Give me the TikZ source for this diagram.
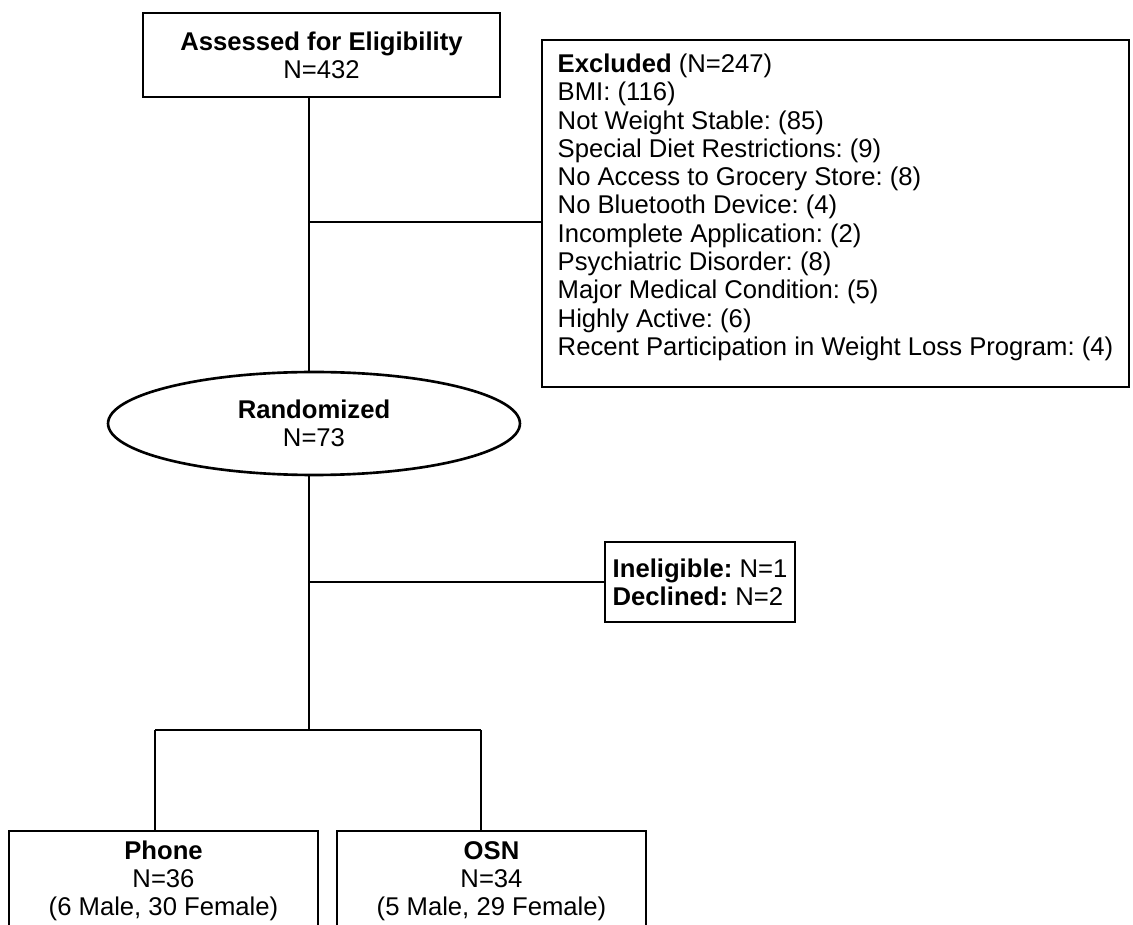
\documentclass[tikz,border=0pt]{standalone}
\usepackage{fontspec}
\setmainfont{Liberation Sans}
\usepackage{tikz}
\usetikzlibrary{positioning,shapes.geometric}
\definecolor{colorline}{RGB}{0,0,0}
\definecolor{colortext}{RGB}{0,0,0}
\frenchspacing

\begin{document}
\begin{tikzpicture}[
    x=0.02cm, y=-0.02cm,
    font={\fontsize{14.6pt}{16.1pt}\selectfont},
    base/.style={draw=colorline,text=colortext,line width=1.5pt,rectangle,inner sep=0pt,align=center},
    oval/.style={draw=colorline,text=colortext,line width=1.5pt,ellipse,inner sep=0pt,align=center},
    line/.style={draw=colorline,line width=1.3pt},
]
    \clip (0,0) rectangle (1133,925);

    \node[base,minimum width=7.14cm,minimum height=1.68cm] at (321.5,55) (assessed)
        {\textbf{Assessed for Eligibility}\\N=432};

    \node[base,minimum width=11.74cm,minimum height=6.94cm,align=left] at (835.5,213.5) (excluded)
        {\textbf{Excluded} (N=247)\\BMI: (116)\\Not Weight Stable: (85)\\Special Diet Restrictions: (9)\\
         No Access to Grocery Store: (8)\\No Bluetooth Device: (4)\\Incomplete Application: (2)\\
         Psychiatric Disorder: (8)\\Major Medical Condition: (5)\\Highly Active: (6)\\
         Recent Participation in Weight Loss Program: (4)\\[-6pt]};

    \node[oval,minimum width=8.24cm,minimum height=2.06cm] at (314,423.5) (random)
        {\textbf{Randomized}\\N=73};

    \node[base,minimum width=3.8cm,minimum height=1.6cm,align=left] at (700,582) (inelig)
        {\textbf{Ineligible:} N=1\\\textbf{Declined:} N=2};

    \node[base,minimum width=6.18cm,minimum height=2cm] at (163.5,881) (phone)
        {\textbf{Phone}\\N=36\\(6 Male, 30 Female)};
    \node[base,minimum width=6.18cm,minimum height=2cm] at (491.5,881) (osn)
        {\textbf{OSN}\\N=34\\(5 Male, 29 Female)};

    \coordinate (trunk) at (309,0);
    \coordinate (exclBranch) at (309,222);
    \coordinate (ineligBranch) at (309,582);
    \coordinate (splitL) at (155,730);
    \coordinate (splitR) at (481,730);

    \draw[line] (assessed.south -| trunk) -- (random.north -| trunk);
    \draw[line] (exclBranch) -- (exclBranch -| excluded.west);
    \draw[line] (random.south -| trunk) -- (trunk |- splitL);
    \draw[line] (ineligBranch) -- (inelig.west);
    \draw[line] (splitL) -- (splitR);
    \draw[line] (splitL) -- (splitL |- phone.north);
    \draw[line] (splitR) -- (splitR |- osn.north);

\end{tikzpicture}
\end{document}
